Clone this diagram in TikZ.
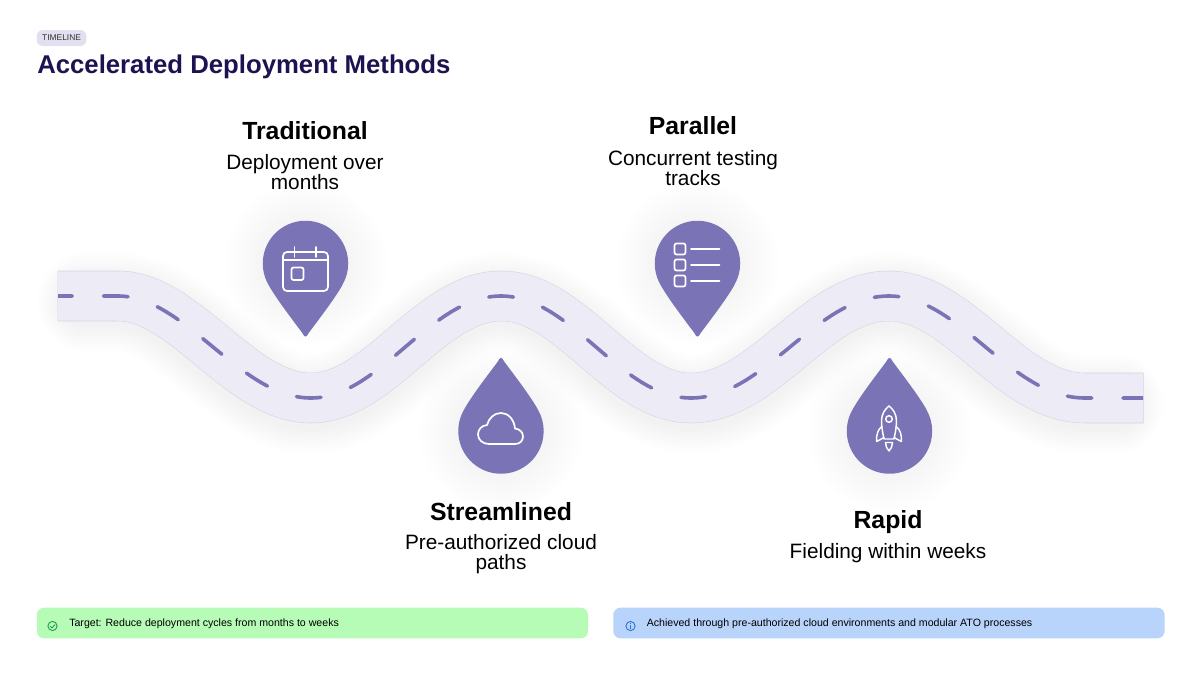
\documentclass[tikz,border=0pt]{standalone}
\usepackage{fontspec}
\setmainfont{Liberation Sans}
\definecolor{pinc}{HTML}{7A73B5}
\definecolor{roadc}{HTML}{EDECF6}
\definecolor{roade}{HTML}{D3D2E0}
\definecolor{titlec}{HTML}{1E1250}
\definecolor{tagc}{HTML}{E2E0F0}
\definecolor{greenb}{HTML}{B6FBB6}
\definecolor{blueb}{HTML}{B8D4FB}
\definecolor{greeni}{HTML}{1E9A50}
\definecolor{bluei}{HTML}{2A70D0}
\tikzset{
  x=.75pt,y=-.75pt,
  roadpath/.style={insert path={(57.5,296) -- (118,296) .. controls (185,296) and (240,398) .. (311,398)
     .. controls (380,398) and (430,296) .. (501,296)
     .. controls (572,296) and (620,398) .. (691,398)
     .. controls (765,398) and (815,296) .. (889,296)
     .. controls (960,296) and (1010,398) .. (1085,398) -- (1143.5,398)}},
  icon/.style={draw=white,line width=1.3pt,line join=round,line cap=round},
  head/.style={font=\bfseries\fontsize{18.6pt}{22pt}\selectfont,text=black,inner sep=0pt,anchor=base},
  sub/.style={font=\fontsize{15.6pt}{14.6pt}\selectfont,text=black,inner sep=0pt,align=center,anchor=center},
  bar/.style={rounded corners=5.5pt,minimum width=413.5pt,minimum height=23pt,inner sep=0pt,anchor=west},
  bartext/.style={font=\fontsize{7.95pt}{10pt}\selectfont,text=black,inner sep=0pt,anchor=base west},
}
\newcommand{\pinbody}{%
  (37,21.3) .. controls (30,34) and (15.5,53) .. (3.5,69) .. controls (.5,74.5) and (-.5,74.5) .. (-3.5,69)
  .. controls (-15.5,53) and (-30,34) .. (-37,21.3) arc[start angle=150,end angle=390,radius=42.7] -- cycle}
\newcommand{\pinglow}[2]{%
  \foreach \g in {3,7,...,39}{
    \fill[black,opacity=.0035,shift={(#1,#2)}] (0,0) circle[radius=42.7+\g];
  }}
\begin{document}
\begin{tikzpicture}
\useasboundingbox (0,0) rectangle (1200,675);
\fill[white] (0,0) rectangle (1200,675);
% road shadow
\foreach \w in {52,56,...,100}{
  \draw[black,opacity=.0042,line cap=round,line width=\w*.75pt,yshift=-4.5pt,shorten <=22pt,shorten >=22pt,roadpath];
}
% pin glows
\pinglow{305.5}{263.5}
\pinglow{697.5}{263.5}
\pinglow{501}{431}
\pinglow{889.5}{431}
% road
\draw[roade,line width=37.9pt,roadpath];
\begin{scope}
\clip (58,250) rectangle (1143,450);
\draw[roadc,line width=37.1pt,roadpath];
\draw[pinc,line width=2.7pt,line cap=round,dash pattern=on 18.5pt off 23.25pt,dash phase=7.3pt,roadpath];
\end{scope}
% pins
\fill[pinc,shift={(305.5,263.5)}] \pinbody;
\fill[pinc,shift={(697.5,263.5)}] \pinbody;
\fill[pinc,shift={(501,431)},yscale=-1] \pinbody;
\fill[pinc,shift={(889.5,431)},yscale=-1] \pinbody;
% calendar
\draw[icon,rounded corners=3pt] (283,252) rectangle (328,291);
\draw[icon] (283,260) -- (328,260);
\draw[icon] (294.5,247) -- (294.5,257) (316,247) -- (316,257);
\draw[icon,rounded corners=1.5pt] (291.5,267.5) rectangle (303.5,280);
% list
\foreach \yy in {249,265,281}{
  \draw[icon,rounded corners=1.5pt] (674.5,\yy-5.5) rectangle (685.5,\yy+5.5);
  \draw[icon] (691,\yy) -- (719.5,\yy);
}
% cloud
\draw[icon] (489,444) -- (515,444) .. controls (520,444) and (523,440.5) .. (523,436.5)
  .. controls (523,432) and (519.5,429) .. (515,428.5)
  .. controls (514,419) and (508,413) .. (501,413)
  .. controls (494,413) and (489,418) .. (487,425)
  .. controls (481,425.5) and (478,430) .. (478,434.5)
  .. controls (478,440) and (483,444) .. (489,444) -- cycle;
% rocket
\begin{scope}[icon,line width=1.1pt]
\draw (889,406) .. controls (893,409) and (896.5,414) .. (896.5,421)
  .. controls (896.5,428) and (895,434) .. (894,439) -- (884,439)
  .. controls (883,434) and (881.5,428) .. (881.5,421)
  .. controls (881.5,414) and (885,409) .. (889,406) -- cycle;
\draw (889,419) circle[radius=3.3];
\draw (882,426.5) .. controls (878,429) and (876,435) .. (876.7,441.5) -- (884,437.5);
\draw (896,426.5) .. controls (900,429) and (902,435) .. (901.3,441.5) -- (894,437.5);
\draw (885.5,442.5) .. controls (885.5,446) and (887,449) .. (889,451) .. controls (891,449) and (892.5,446) .. (892.5,442.5) -- cycle;
\end{scope}
% header
\node[fill=tagc,rounded corners=4.5pt,minimum width=37.2pt,minimum height=12pt,inner sep=0pt,anchor=west] (tagbox) at (36.5,38) {};
\node[font=\fontsize{6.3pt}{8pt}\selectfont,text=black!80,inner sep=0pt] (tag) at (tagbox.center) {TIMELINE};
\node[font=\bfseries\fontsize{19.3pt}{24pt}\selectfont,text=titlec,inner sep=0pt,anchor=base west] (title) at (37,73) {Accelerated Deployment Methods};
% labels
\node[head] (h1) at (305,139) {Traditional};
\node[sub] (s1) at (305,172) {Deployment over\\months};
\node[head] (h2) at (693,134) {Parallel};
\node[sub] (s2) at (693,168) {Concurrent testing\\tracks};
\node[head] (h3) at (501,520) {Streamlined};
\node[sub] (s3) at (501,554) {Pre-authorized cloud\\paths};
\node[head] (h4) at (888,528) {Rapid};
\node[sub] (s4) at (888,553.5) {Fielding within weeks};
% bars
\node[bar,fill=greenb] (b1) at (36.5,623) {};
\node[bar,fill=blueb] (b2) at (613,623) {};
\node[bartext] (t1) at (69,626) {Target: Reduce deployment cycles from months to weeks};
\node[bartext] (t2) at (646.5,626) {Achieved through pre-authorized cloud environments and modular ATO processes};
% bar icons
\draw[greeni,line width=.65pt] (52.5,626) circle[radius=4.6];
\draw[greeni,line width=.65pt,line cap=round,line join=round] (50.3,626.2) -- (52,628) -- (55,624.6);
\draw[bluei,line width=.65pt] (630.5,626) circle[radius=4.6];
\draw[bluei,line width=.75pt,line cap=round] (630.5,625.5) -- (630.5,628.5) (630.5,623.4) -- (630.5,623.5);
\end{tikzpicture}
\end{document}
